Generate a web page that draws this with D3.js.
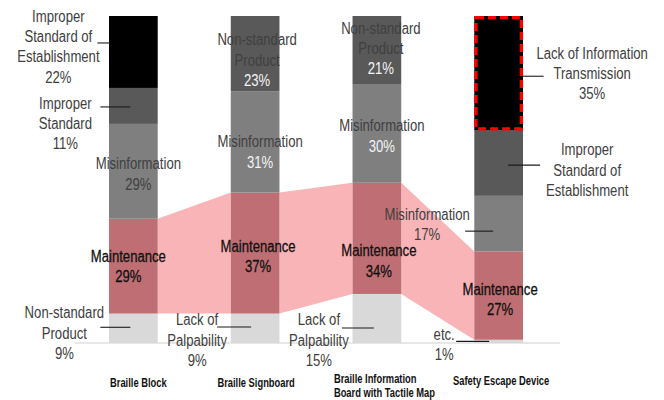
<!DOCTYPE html>
<html>
<head>
<meta charset="utf-8">
<script src="https://cdn.jsdelivr.net/npm/d3@7"></script>
<style>
  body { margin: 0; background: #fff; }
  svg text { font-family: "Liberation Sans", Arial, sans-serif; }
</style>
</head>
<body>
<svg id="chart"></svg>
<script>
// categories (x axis) and the causes stacked bottom -> top in each bar
const categories = ["Braille Block", "Braille Signboard", "Braille Information\nBoard with Tactile Map", "Safety Escape Device"];

const blockCauses = ["Non-standard\nProduct", "Maintenance", "Misinformation", "Improper\nStandard", "Improper\nStandard of\nEstablishment"];
const blockShares = [9, 29, 29, 11, 22];

const signCauses = ["Lack of\nPalpability", "Maintenance", "Misinformation", "Non-standard\nProduct"];
const signShares = [9, 37, 31, 23];

const mapCauses = ["Lack of\nPalpability", "Maintenance", "Misinformation", "Non-standard\nProduct"];
const mapShares = [15, 34, 30, 21];

const escapeCauses = ["etc.", "Maintenance", "Misinformation", "Improper\nStandard of\nEstablishment", "Lack of Information\nTransmission"];
const escapeShares = [1, 27, 17, 20, 35];

const causes = [blockCauses, signCauses, mapCauses, escapeCauses];
const shares = [blockShares, signShares, mapShares, escapeShares];

// colour by position in the stack
const stackColors = ["#d9d9d9", "#bf6f73", "#7f7f7f", "#595959", "#000000"];

// label placement: offset from bar centre / segment centre, optional leader line
const labelLayout = [
  [
    { dx: -69, dy: 4.7, leader: [-33, -3, -1] },
    { dx: -5, dy: 0, strong: true },
    { dx: 5, dy: 2.7 },
    { dx: -68, dy: 17.6, leader: [-33, -3, 1] },
    { dx: -75, dy: -5.5, leader: [-36, -23, -9] }
  ],
  [
    { dx: -58, dy: 11.7, leader: [-38, -4, -1.3] },
    { dx: 3, dy: 3.4, strong: true },
    { dx: 5, dy: 10, pctFill: "#f4f4f4" },
    { dx: 2, dy: 6.4, pctFill: "#f4f4f4" }
  ],
  [
    { dx: -58, dy: 21.5, leader: [-35, -3, 9.5] },
    { dx: 2, dy: 22.6, strong: true },
    { dx: 5, dy: 2.3, pctFill: "#f4f4f4" },
    { dx: 4, dy: -1.8, pctFill: "#f4f4f4" }
  ],
  [
    { dx: -54.5, dy: 3, leader: [-42.5, -9.5, 0] },
    { dx: 1.5, dy: 4, strong: true },
    { dx: -71.5, dy: 1, leader: [-33.5, -5.5, 7.5] },
    { dx: 88.5, dy: 7, leader: [9.5, 41.5, 2], noPct: true },
    { dx: 93.5, dy: 0, leader: [24, 45, 3] }
  ]
];

const w = 664;
const h = 400;
const lineH = 20.3;
const narrow = 0.82;

const svg = d3.select("#chart").attr("width", w).attr("height", h);

const x = d3.scaleBand().domain(categories).range([109, 523]).paddingInner(0.6).paddingOuter(0);
const y = d3.scaleLinear().domain([0, 100]).range([343, 16]);
const bw = x.bandwidth();

// build stacks
const stacks = categories.map((cat, ci) => {
  let acc = 0;
  return causes[ci].map((name, si) => {
    const d = { cat, ci, si, name, value: shares[ci][si], y0: acc, y1: acc + shares[ci][si] };
    acc += shares[ci][si];
    return d;
  });
});

// baseline
svg.append("line")
  .attr("x1", 75).attr("x2", 560)
  .attr("y1", y(0)).attr("y2", y(0))
  .attr("stroke", "#d0d0d0").attr("stroke-width", 1.2);

// pink bands joining the Maintenance segments
const maint = stacks.map((s) => s.find((d) => d.name === "Maintenance"));
svg.selectAll(".band")
  .data(d3.pairs(maint))
  .enter()
  .append("path")
  .attr("class", "band")
  .attr("fill", "#f9b4b8")
  .attr("d", ([a, b]) => {
    const xa = x(a.cat) + bw;
    const xb = x(b.cat);
    return `M${xa},${y(a.y1)}L${xb},${y(b.y1)}L${xb},${y(b.y0)}L${xa},${y(a.y0)}Z`;
  });

// bars
const segs = stacks.flat();
svg.selectAll(".seg")
  .data(segs)
  .enter()
  .append("rect")
  .attr("class", "seg")
  .attr("x", (d) => x(d.cat))
  .attr("width", bw)
  .attr("y", (d) => y(d.y1))
  .attr("height", (d) => y(d.y0) - y(d.y1))
  .attr("fill", (d) => stackColors[d.si]);

// highlight box on the top segment of the last bar
const hl = stacks[3][4];
svg.append("rect")
  .attr("x", x(hl.cat) + 1.6)
  .attr("width", bw - 3.2)
  .attr("y", y(hl.y1) + 1.6)
  .attr("height", y(hl.y0) - y(hl.y1) - 3.2)
  .attr("fill", "none")
  .attr("stroke", "#ff0000")
  .attr("stroke-width", 3.4)
  .attr("stroke-dasharray", "8,4");

// leader lines and labels
segs.forEach((d) => {
  const lay = labelLayout[d.ci][d.si];
  const cx = x(d.cat) + bw / 2;
  const cy = y((d.y0 + d.y1) / 2);
  if (lay.leader) {
    svg.append("line")
      .attr("x1", cx + lay.leader[0]).attr("x2", cx + lay.leader[1])
      .attr("y1", cy + lay.leader[2]).attr("y2", cy + lay.leader[2])
      .attr("stroke", "#1a1a1a").attr("stroke-width", 1.1);
  }
  const lines = d.name.split("\n");
  if (!lay.noPct) lines.push(d.value + "%");
  const t = svg.append("text")
    .attr("transform", `translate(${cx + lay.dx},${cy + lay.dy}) scale(${narrow},1)`)
    .attr("text-anchor", "middle")
    .attr("font-size", 16)
    .attr("fill", lay.strong ? "#111" : "#404040");
  if (lay.strong) t.attr("stroke", "#111").attr("stroke-width", 0.3);
  lines.forEach((ln, i) => {
    const isPct = !lay.noPct && i === lines.length - 1;
    t.append("tspan")
      .attr("x", 0)
      .attr("y", (i - (lines.length - 1) / 2) * lineH)
      .attr("dy", "0.35em")
      .attr("fill", isPct && lay.pctFill ? lay.pctFill : null)
      .text(ln);
  });
});

// category axis
const axis = svg.append("g")
  .attr("transform", `translate(0, 383)`)
  .call(d3.axisBottom(x).tickSize(0).tickPadding(0));
axis.select(".domain").remove();
const catShift = [5, 1, -43, 2.5];
axis.selectAll(".tick text").each(function (c, i) {
  const parts = c.split("\n");
  const multi = parts.length > 1;
  const t = d3.select(this)
    .text(null)
    .attr("y", 0)
    .attr("dy", null)
    .attr("transform", `translate(${catShift[i]},${i === 3 ? -2 : 0}) scale(0.78,1)`)
    .attr("font-size", 12)
    .attr("font-weight", "bold")
    .attr("fill", "#111")
    .attr("text-anchor", multi ? "start" : "middle");
  parts.forEach((p, k) => {
    t.append("tspan")
      .attr("x", 0)
      .attr("y", multi ? -4 + k * 14 : 0)
      .attr("dy", "0.35em")
      .text(p);
  });
});
</script>
</body>
</html>
